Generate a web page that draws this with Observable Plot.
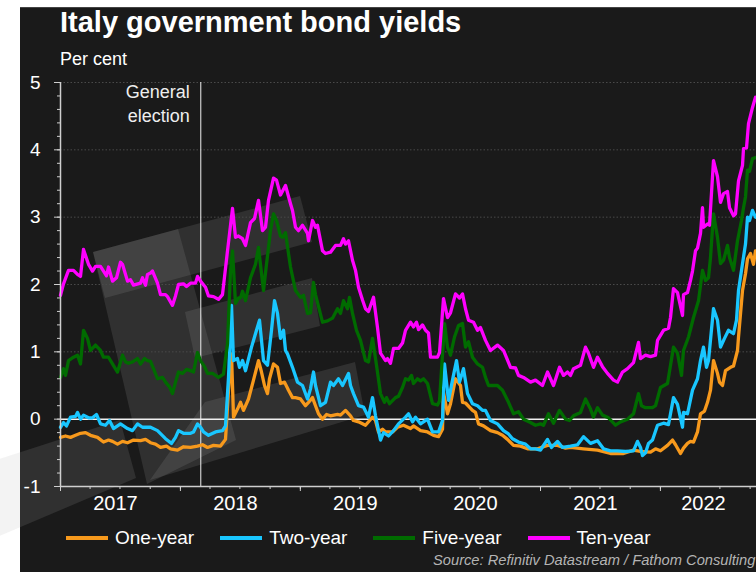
<!DOCTYPE html>
<html><head><meta charset="utf-8">
<script src="https://cdn.jsdelivr.net/npm/d3@7"></script>
<script src="https://cdn.jsdelivr.net/npm/@observablehq/plot@0.6"></script>
<style>
html,body{margin:0;padding:0;background:#fff;}
#wrap{position:relative;width:756px;height:572px;overflow:hidden;font-family:"Liberation Sans",Arial,sans-serif;}
#bg{position:absolute;left:0;top:0;}
#chart{position:absolute;left:0;top:0;}
.t{position:absolute;color:#fff;white-space:nowrap;line-height:1;}
#legend{position:absolute;left:66px;top:527px;display:flex;gap:26px;align-items:center;}
#legend .it{display:flex;align-items:center;color:#fff;font-size:19px;}
#legend .sw{width:42px;height:3.5px;margin-right:7px;}
</style></head><body>
<div id="wrap">
<svg id="bg" width="756" height="572"></svg>
<div id="chart"></div>
<div class="t" style="left:60px;top:8px;font-size:29px;font-weight:bold;">Italy government bond yields</div>
<div class="t" style="left:60px;top:50px;font-size:18px;">Per cent</div>
<div id="legend"></div>
<div class="t" style="left:433px;top:553px;font-size:14.7px;font-style:italic;color:#b4b4b4;">Source: Refinitiv Datastream / Fathom Consulting</div>
</div>
<script>
// Series names and colours
const seriesNames = ["One-year", "Two-year", "Five-year", "Ten-year"];
const seriesColors = ["#f7991c", "#19c6ff", "#006b00", "#ff00ff"];

// [months since January 2017, yield in per cent]
const oneYear = [[0,-0.27],[0.5,-0.25],[1.0,-0.27],[1.5,-0.24],[2.0,-0.21],[2.5,-0.2],[3.0,-0.24],[3.7,-0.27],[4.3,-0.34],[4.8,-0.31],[5.2,-0.33],[5.7,-0.37],[6.2,-0.33],[6.7,-0.35],[7.3,-0.31],[8.0,-0.32],[8.5,-0.3],[9.0,-0.35],[9.5,-0.37],[10.0,-0.42],[10.6,-0.4],[11.0,-0.44],[11.7,-0.46],[12.3,-0.41],[13.0,-0.42],[13.7,-0.4],[14.2,-0.38],[14.7,-0.42],[15.3,-0.39],[16.0,-0.4],[16.5,-0.3],[16.8,0.43],[17.1,0.97],[17.3,0.03],[17.7,0.15],[18.0,0.25],[18.3,0.13],[18.8,0.3],[19.3,0.58],[19.8,0.87],[20.1,0.7],[20.4,0.5],[20.7,0.38],[20.9,0.6],[21.3,0.82],[21.7,0.77],[22.0,0.53],[22.4,0.55],[22.8,0.43],[23.2,0.32],[23.5,0.32],[24.0,0.3],[24.5,0.2],[24.8,0.25],[25.2,0.32],[25.5,0.2],[25.8,0.08],[26.2,0.0],[26.6,0.07],[27.0,0.05],[27.7,0.07],[28.0,0.06],[28.5,0.13],[29.0,0.05],[29.3,-0.02],[29.8,-0.04],[30.5,-0.09],[31.2,0.03],[31.5,-0.02],[31.8,-0.19],[32.2,-0.15],[32.5,-0.19],[33.2,-0.19],[33.7,-0.12],[34.3,-0.09],[35.0,-0.14],[35.3,-0.1],[36.0,-0.17],[36.7,-0.19],[37.3,-0.24],[37.8,-0.26],[38.2,-0.15],[38.3,0.4],[38.7,0.08],[39.0,0.23],[39.5,0.6],[40.0,0.5],[40.2,0.25],[40.5,0.24],[41.2,0.13],[41.5,0.1],[41.8,-0.07],[42.3,-0.1],[43.0,-0.17],[43.7,-0.2],[44.2,-0.24],[44.7,-0.3],[45.3,-0.39],[46.0,-0.4],[46.7,-0.44],[47.7,-0.44],[48.7,-0.39],[49.7,-0.39],[50.5,-0.43],[51.0,-0.42],[52.3,-0.44],[53.7,-0.46],[55.0,-0.51],[56.3,-0.51],[57.3,-0.46],[58.0,-0.48],[59.0,-0.49],[59.5,-0.44],[60.0,-0.47],[60.7,-0.39],[61.2,-0.31],[61.5,-0.38],[62.0,-0.51],[62.3,-0.43],[62.7,-0.36],[63.0,-0.33],[63.3,-0.34],[63.7,-0.19],[64.0,0.08],[64.4,0.12],[64.7,0.25],[65.0,0.43],[65.3,0.87],[65.7,0.68],[65.9,0.55],[66.2,0.5],[66.5,0.72],[67.0,0.77],[67.3,0.79],[67.7,1.02],[67.8,1.22],[68.2,1.91],[68.5,2.16],[68.7,2.38],[69.0,2.46],[69.3,2.3],[69.5,2.5]];

const twoYear = [[0,-0.12],[0.3,-0.05],[0.6,-0.1],[1.0,0.03],[1.5,0.04],[1.7,0.1],[2.0,0.0],[2.3,0.06],[2.8,0.02],[3.2,0.02],[3.6,0.07],[4.0,-0.07],[4.5,-0.09],[4.9,-0.02],[5.3,-0.14],[6.0,-0.07],[6.7,-0.14],[7.2,-0.17],[7.7,-0.07],[8.2,-0.12],[9.0,-0.12],[9.7,-0.17],[10.5,-0.29],[11.1,-0.36],[11.5,-0.27],[11.8,-0.17],[12.3,-0.21],[13.0,-0.21],[13.3,-0.19],[13.7,-0.07],[14.0,-0.12],[14.3,-0.19],[14.8,-0.24],[15.5,-0.19],[16.2,-0.17],[16.5,-0.1],[16.8,0.62],[17.1,1.69],[17.3,0.87],[17.7,0.9],[17.9,0.77],[18.2,0.87],[18.5,0.72],[19.1,1.07],[19.6,1.32],[19.9,1.47],[20.3,0.87],[20.7,0.8],[21.1,1.32],[21.4,1.76],[21.7,1.57],[22.0,1.2],[22.3,1.32],[22.5,1.02],[22.7,0.97],[23.2,0.77],[23.7,0.55],[24.2,0.5],[24.7,0.3],[25.0,0.45],[25.3,0.7],[25.5,0.5],[26.0,0.2],[26.5,0.25],[27.0,0.55],[27.3,0.5],[27.8,0.6],[28.2,0.5],[28.6,0.62],[28.8,0.68],[29.0,0.5],[29.3,0.38],[29.8,0.2],[30.3,0.18],[30.8,0.03],[31.2,0.32],[31.5,0.05],[32.0,-0.31],[32.3,-0.2],[32.8,-0.25],[33.3,-0.17],[33.8,-0.07],[34.5,0.03],[34.8,0.08],[35.2,-0.04],[35.5,0.03],[36.0,-0.07],[36.7,0.0],[37.2,-0.19],[37.8,-0.19],[38.2,-0.02],[38.4,0.82],[38.8,0.28],[39.2,0.58],[39.6,0.87],[39.9,0.55],[40.3,0.75],[40.7,0.38],[41.2,0.23],[41.7,0.2],[42.2,0.13],[42.5,0.13],[43.0,-0.02],[43.7,-0.07],[44.3,-0.17],[44.8,-0.22],[45.2,-0.29],[45.8,-0.34],[46.5,-0.37],[47.0,-0.44],[47.5,-0.44],[48.0,-0.46],[48.3,-0.39],[48.7,-0.3],[49.1,-0.42],[49.7,-0.33],[50.2,-0.42],[51.0,-0.4],[51.7,-0.38],[52.3,-0.26],[53.0,-0.36],[53.7,-0.32],[54.3,-0.44],[55.0,-0.47],[55.7,-0.47],[56.5,-0.48],[57.3,-0.47],[57.7,-0.33],[58.0,-0.42],[58.2,-0.54],[58.5,-0.5],[58.8,-0.36],[59.2,-0.31],[59.7,-0.09],[60.3,-0.06],[60.8,-0.08],[61.3,0.32],[61.7,0.22],[62.2,-0.12],[62.3,0.1],[62.7,0.08],[63.2,0.43],[63.7,0.6],[64.0,0.87],[64.3,1.07],[64.6,0.77],[64.8,0.87],[65.3,1.64],[65.7,1.47],[66.0,1.07],[66.4,1.2],[66.8,1.32],[67.3,1.27],[67.6,1.47],[67.8,1.91],[68.2,2.31],[68.5,2.6],[68.7,3.0],[68.9,2.95],[69.2,3.1],[69.5,3.0]];

const fiveYear = [[0,0.62],[0.3,0.75],[0.5,0.65],[0.8,0.87],[1.3,0.92],[1.7,0.95],[2.0,0.82],[2.3,1.32],[2.7,1.2],[3.0,1.02],[3.5,1.1],[4.0,1.02],[4.3,0.92],[4.8,0.92],[5.2,0.82],[5.7,0.7],[6.2,0.95],[6.5,0.85],[6.8,0.83],[7.2,0.85],[7.7,0.9],[8.0,0.82],[8.4,0.9],[8.7,0.87],[9.0,0.86],[9.3,0.75],[9.7,0.6],[10.2,0.62],[10.5,0.55],[10.9,0.48],[11.2,0.38],[11.5,0.55],[11.8,0.7],[12.2,0.68],[12.6,0.74],[13.0,0.72],[13.3,0.7],[13.7,0.99],[14.0,0.87],[14.4,0.78],[14.7,0.68],[15.2,0.68],[15.8,0.62],[16.3,0.67],[16.7,1.12],[17.0,2.2],[17.2,2.5],[17.5,1.72],[17.8,1.8],[18.0,1.8],[18.2,1.9],[18.5,1.76],[19.0,2.1],[19.5,2.3],[19.8,2.55],[20.3,1.91],[20.6,2.3],[21.0,2.8],[21.3,3.05],[21.6,2.95],[22.0,2.72],[22.2,2.7],[22.5,2.77],[22.8,2.46],[23.0,2.26],[23.5,1.91],[24.0,1.81],[24.3,1.84],[24.7,1.57],[25.0,1.58],[25.3,2.03],[25.5,1.85],[26.2,1.44],[26.7,1.46],[27.2,1.5],[27.7,1.64],[28.0,1.57],[28.3,1.76],[28.7,1.64],[28.9,1.81],[29.2,1.57],[29.6,1.32],[30.0,1.17],[30.5,0.87],[30.8,0.85],[31.2,1.2],[31.6,0.8],[32.0,0.38],[32.4,0.25],[32.6,0.32],[32.9,0.23],[33.5,0.32],[33.8,0.34],[34.2,0.47],[34.5,0.6],[34.8,0.58],[35.1,0.65],[35.3,0.53],[35.7,0.6],[36.0,0.57],[36.3,0.6],[36.7,0.53],[37.2,0.23],[37.7,0.21],[37.9,0.27],[38.4,1.42],[38.7,1.07],[39.0,0.95],[39.4,1.22],[39.8,1.39],[40.2,1.42],[40.5,1.07],[40.8,1.15],[41.2,0.92],[41.7,0.82],[42.2,0.77],[42.5,0.62],[42.8,0.5],[43.7,0.5],[44.2,0.43],[44.8,0.25],[45.3,0.08],[45.8,0.11],[46.3,0.0],[47.0,-0.05],[47.5,-0.09],[48.0,-0.07],[48.3,-0.09],[48.8,0.08],[49.3,-0.06],[49.9,0.13],[50.5,0.0],[50.9,-0.02],[51.3,0.05],[52.0,0.1],[52.5,0.3],[53.0,0.15],[53.3,0.03],[53.7,0.17],[54.2,0.06],[54.8,0.02],[55.5,-0.09],[56.0,-0.04],[56.7,0.0],[57.3,0.08],[57.8,0.38],[58.1,0.2],[58.5,0.17],[59.2,0.17],[59.5,0.2],[60.0,0.47],[60.7,0.53],[61.3,1.07],[61.7,0.98],[62.1,0.65],[62.3,1.02],[62.8,1.22],[63.3,1.51],[63.8,1.76],[64.2,2.21],[64.5,2.06],[64.8,2.1],[65.0,2.4],[65.3,3.05],[65.7,2.7],[66.0,2.31],[66.3,2.36],[66.7,2.58],[66.9,2.4],[67.3,2.21],[67.7,2.65],[68.1,2.95],[68.3,3.14],[68.5,3.3],[68.7,3.7],[68.9,3.68],[69.2,3.87],[69.6,3.89]];

const tenYear = [[0,1.84],[0.3,2.01],[0.8,2.21],[1.3,2.21],[1.7,2.15],[2.0,2.12],[2.3,2.52],[2.8,2.3],[3.2,2.2],[3.5,2.27],[4.0,2.27],[4.3,2.2],[4.6,2.13],[4.8,2.26],[5.2,2.05],[5.6,2.1],[6.0,2.33],[6.2,2.3],[6.7,2.05],[7.0,2.07],[7.3,1.99],[8.0,2.02],[8.2,2.1],[8.5,1.99],[8.7,2.15],[9.0,2.17],[9.2,2.2],[9.7,2.02],[10.0,1.85],[10.5,1.85],[10.7,1.82],[11.2,1.69],[11.5,1.83],[11.8,2.0],[12.3,2.01],[12.6,1.97],[13.0,2.02],[13.5,2.02],[13.7,2.12],[14.0,2.05],[14.5,1.96],[14.8,1.83],[15.3,1.82],[15.8,1.78],[16.2,1.85],[16.7,2.5],[17.2,3.13],[17.5,2.7],[17.8,2.72],[18.2,2.68],[18.5,2.58],[19.0,2.92],[19.4,2.98],[19.8,3.25],[20.2,2.8],[20.5,2.85],[20.8,3.25],[21.3,3.58],[21.6,3.55],[22.0,3.33],[22.5,3.47],[23.0,3.2],[23.2,3.1],[23.5,2.85],[23.8,2.8],[24.2,2.88],[24.7,2.76],[24.8,2.65],[25.2,2.95],[25.5,2.85],[25.7,2.88],[26.2,2.5],[26.5,2.46],[27.0,2.48],[27.5,2.58],[28.0,2.58],[28.3,2.68],[28.5,2.6],[28.8,2.65],[29.2,2.36],[29.5,2.21],[29.8,1.96],[30.2,1.77],[30.5,1.64],[30.8,1.6],[31.3,1.81],[31.7,1.36],[32.0,0.98],[32.5,0.87],[32.7,0.9],[33.0,0.83],[33.3,1.05],[33.8,1.05],[34.2,1.13],[34.5,1.32],[35.0,1.44],[35.3,1.37],[35.6,1.44],[35.8,1.33],[36.2,1.4],[36.5,1.32],[36.8,1.28],[37.0,0.92],[37.7,0.92],[37.9,0.99],[38.3,1.79],[38.7,1.51],[39.0,1.58],[39.5,1.86],[39.9,1.8],[40.2,1.86],[40.5,1.64],[40.8,1.47],[41.3,1.44],[41.7,1.32],[42.0,1.36],[42.5,1.17],[43.0,1.02],[43.7,1.1],[44.3,1.02],[45.0,0.77],[45.5,0.76],[45.8,0.65],[46.3,0.62],[47.0,0.55],[47.5,0.58],[48.2,0.5],[48.7,0.7],[49.3,0.5],[49.9,0.77],[50.3,0.65],[50.7,0.7],[51.0,0.65],[51.3,0.75],[52.0,0.8],[52.5,1.07],[52.8,0.98],[53.3,0.77],[53.7,0.92],[54.2,0.78],[54.7,0.68],[55.3,0.58],[55.7,0.55],[56.2,0.7],[56.7,0.75],[57.3,0.84],[57.8,1.14],[58.0,0.9],[58.5,0.95],[59.0,0.93],[59.5,0.95],[59.7,1.17],[60.3,1.32],[60.8,1.35],[61.0,1.51],[61.3,1.94],[61.7,1.88],[62.2,1.54],[62.3,1.85],[62.7,1.88],[63.0,2.06],[63.2,2.2],[63.5,2.5],[63.7,2.54],[64.0,2.76],[64.2,3.14],[64.3,2.85],[64.7,2.9],[64.9,2.88],[65.3,3.84],[65.7,3.6],[66.0,3.22],[66.3,3.35],[66.7,3.38],[66.9,3.14],[67.3,3.02],[67.5,3.05],[67.8,3.54],[68.2,3.77],[68.3,4.02],[68.6,4.03],[68.8,4.39],[69.2,4.63],[69.5,4.78]];

const yTicks = [-1, 0, 1, 2, 3, 4, 5];
const yearLabels = [2017, 2018, 2019, 2020, 2021, 2022];
const electionDate = "2018-03-04";
const electionLabel = "General\nelection";
const startMonth = 0, endMonth = 69.6; // months since Jan 2017 shown on the axis

const toDate = m => new Date(Date.UTC(2017, 0, 1) + m * 30.4375 * 864e5);
const seriesData = [oneYear, twoYear, fiveYear, tenYear];
const rows = seriesData.flatMap((arr, i) => arr.map(([m, v]) => ({date: toDate(m), value: v, series: seriesNames[i]})));

const x0 = toDate(startMonth), x1 = toDate(endMonth);
const yearStarts = d3.range(2017, 2023).map(y => new Date(Date.UTC(y, 0, 1)));
const quarters = d3.utcMonth.every(3).range(x0, x1);
const labelDates = yearLabels.map(y => {
  const s = Math.max(+new Date(Date.UTC(y, 0, 1)), +x0);
  const e = Math.min(+new Date(Date.UTC(y + 1, 0, 1)), +x1);
  return new Date((s + e) / 2);
});
const minorY = d3.range(-5, 26).map(k => k / 5);
const elec = new Date(electionDate + "T00:00:00Z");

// Background panel and faint watermark (decoration)
const bg = d3.select("#bg");
bg.append("rect").attr("x", 20).attr("y", 7).attr("width", 736).attr("height", 565).attr("fill", "#1a1a1a");
bg.append("line").attr("x1", 20).attr("x2", 756).attr("y1", 7.5).attr("y2", 7.5).attr("stroke", "#444");
const wm = [
  [[93,252],[300,196],[312,242],[105,298]],
  [[93,252],[178,229],[236,440],[147,484]],
  [[185,312],[312,278],[320,326],[195,358]],
  [[205,402],[355,362],[365,415],[150,480]],
  [[-10,462],[120,420],[136,478],[-10,540]]
];
bg.selectAll("polygon.wm").data(wm).join("polygon")
  .attr("points", d => d.map(p => p.join(",")).join(" "))
  .attr("fill", "#acacac").attr("fill-opacity", 0.15);

const chart = Plot.plot({
  width: 756, height: 572,
  marginLeft: 60, marginRight: 0, marginTop: 82, marginBottom: 86,
  style: {background: "transparent", color: "#fff", fontFamily: "'Liberation Sans', Arial, sans-serif", overflow: "visible"},
  x: {type: "utc", domain: [x0, x1]},
  y: {domain: [-1, 5]},
  color: {domain: seriesNames, range: seriesColors},
  marks: [
    Plot.gridY([1, 2, 3, 4, 5], {stroke: "#4a4a4a", strokeOpacity: 1, strokeDasharray: "1.5,2"}),
    Plot.ruleY([0], {stroke: "#f0f0f0", strokeWidth: 1.5}),
    Plot.ruleX([elec], {y1: -1, y2: 5, stroke: "#f0f0f0", strokeWidth: 1}),
    Plot.text([electionLabel], {x: elec, y: 5, text: d => d, textAnchor: "end", lineAnchor: "top", lineHeight: 1.33, dx: -11, dy: -1, fontSize: 18, fill: "#eeeeee"}),
    Plot.line(rows, {x: "date", y: "value", z: "series", stroke: "series", strokeWidth: 3.3, strokeLinejoin: "round"}),
    Plot.ruleX([x0], {y1: -1, y2: 5, stroke: "#cfcfcf", strokeWidth: 1.5}),
    Plot.ruleY([-1], {stroke: "#cfcfcf", strokeWidth: 1.5}),
    Plot.axisY({ticks: minorY, tickSize: 3, text: null, stroke: "#cfcfcf", label: null}),
    Plot.axisY({ticks: yTicks, tickSize: 6, tickPadding: 14, fontSize: 19, stroke: "#cfcfcf", fill: "#fff", tickFormat: d => String(d), label: null}),
    Plot.axisX({ticks: quarters, tickSize: 3, text: null, stroke: "#cfcfcf", label: null}),
    Plot.axisX({ticks: yearStarts, tickSize: 5, text: null, stroke: "#cfcfcf", label: null}),
    Plot.axisX({ticks: labelDates, tickSize: 0, tickPadding: 9, dx: -5, fontSize: 20, fill: "#fff", tickFormat: d3.utcFormat("%Y"), label: null})
  ]
});
document.getElementById("chart").appendChild(chart);

// Legend
const leg = d3.select("#legend");
seriesNames.forEach((n, i) => {
  const it = leg.append("div").attr("class", "it");
  it.append("div").attr("class", "sw").style("background", seriesColors[i]);
  it.append("span").text(n);
});
</script>
</body></html>
